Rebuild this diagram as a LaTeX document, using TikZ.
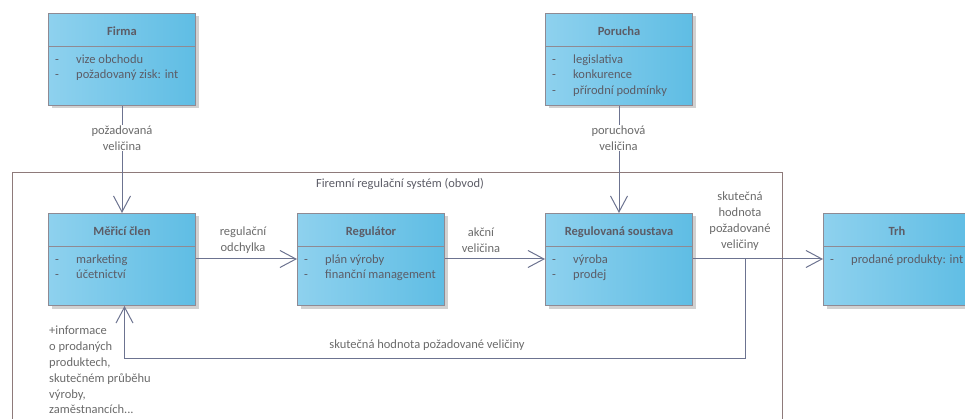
\documentclass[tikz,border=0pt]{standalone}
\usepackage{fontspec}
\setmainfont{Carlito}
\usetikzlibrary{arrows.meta,shadows,calc}

\definecolor{boxL}{HTML}{8ED1EE}
\definecolor{boxR}{HTML}{5FBDE4}
\definecolor{boxEdge}{HTML}{8F8A93}
\definecolor{wire}{HTML}{6C7390}
\definecolor{frameEdge}{HTML}{8E7A7A}
\definecolor{txt}{HTML}{5C5C66}
\definecolor{lbl}{HTML}{6A6A6A}

\tikzset{
  classbox/.style={draw=boxEdge, line width=1pt, left color=boxL, right color=boxR,
    anchor=north west, inner sep=0pt, minimum width=147pt, minimum height=92pt,
    drop shadow={shadow xshift=3pt, shadow yshift=-3pt, fill=black!18, opacity=1}},
  classtitle/.style={font=\fontsize{12.5}{14}\selectfont\bfseries, text=txt, anchor=base, inner sep=0pt},
  attr/.style={font=\fontsize{12.5}{14}\selectfont, text=txt, anchor=base west, inner sep=0pt},
  lab/.style={font=\fontsize{12.5}{15.8}\selectfont, text=lbl, align=center, inner sep=1pt},
  flow/.style={draw=wire, line width=1pt, -{Straight Barb[length=16pt,width=17pt,line width=1pt]}},
}

% a class box: name, top-left x, top-left y, title
\newcommand{\classbox}[4]{%
  \node[classbox] (#1) at (#2,#3) {};
  \draw[boxEdge, line width=1pt] ($(#1.north west)+(0,34)$) -- ($(#1.north east)+(0,34)$);
  \node[classtitle] (#1-title) at ($(#1.north)+(0,23)$) {#4};
}
% an attribute line: box, line index, text
\newcommand{\attrline}[3]{%
  \node[attr] (#1-d#2) at ($(#1.north west)+(7,{50.5+15.5*(#2-1)})$) {-};
  \node[attr] (#1-a#2) at ($(#1.north west)+(28,{50.5+15.5*(#2-1)})$) {#3};
}

\begin{document}
\begin{tikzpicture}[x=1pt,y=-1pt]
\useasboundingbox (0,0) rectangle (965,419);
\clip (0,0) rectangle (965,419);

% system frame
\draw[frameEdge, line width=0.9pt] (12,172) rectangle (782,440);
\node[font=\fontsize{12.5}{14}\selectfont, text=txt] (framelabel) at (400,184) {Firemní regulační systém (obvod)};

% classes
\classbox{firma}{48}{13}{Firma}
\attrline{firma}{1}{vize obchodu}
\attrline{firma}{2}{požadovaný zisk: int}

\classbox{porucha}{545}{13}{Porucha}
\attrline{porucha}{1}{legislativa}
\attrline{porucha}{2}{konkurence}
\attrline{porucha}{3}{přírodní podmínky}

\classbox{meric}{48}{213}{Měřicí člen}
\attrline{meric}{1}{marketing}
\attrline{meric}{2}{účetnictví}

\classbox{regulator}{297}{213}{Regulátor}
\attrline{regulator}{1}{plán výroby}
\attrline{regulator}{2}{finanční management}

\classbox{soustava}{545}{213}{Regulovaná soustava}
\attrline{soustava}{1}{výroba}
\attrline{soustava}{2}{prodej}

\classbox{trh}{823}{213}{Trh}
\attrline{trh}{1}{prodané produkty: int}

% vertical inputs
\draw[flow] (firma.south) -- (meric.north);
\node[lab, fill=white] (l-pozad) at (122,138) {požadovaná\\veličina};
\draw[flow] (porucha.south) -- (soustava.north);
\node[lab, fill=white] (l-poruch) at (618.5,138) {poruchová\\veličina};

% main chain, level with the first attribute line
\coordinate (rowA) at (0,259);
\draw[flow] (meric.east |- rowA) -- (regulator.west |- rowA);
\node[lab] (l-odch) at (243,240) {regulační\\odchylka};
\draw[flow] (regulator.east |- rowA) -- (soustava.west |- rowA);
\node[lab] (l-akc) at (481,240) {akční\\veličina};
\draw[flow] (soustava.east |- rowA) -- (trh.west |- rowA);
\node[lab] (l-skut) at (740,221) {skutečná\\hodnota\\požadované\\veličiny};

% feedback loop
\coordinate (fb) at (745,259);
\draw[flow] (fb) -- (745,358) -| ([xshift=2.5pt]meric.south);
\node[lab] (l-fb) at (427,345) {skutečná hodnota požadované veličiny};

\node[lab, align=left, anchor=north west] (l-info) at (48,325)
  {+informace\\o prodaných\\produktech,\\skutečném průběhu\\výroby,\\zaměstnancích...};
\end{tikzpicture}
\end{document}
